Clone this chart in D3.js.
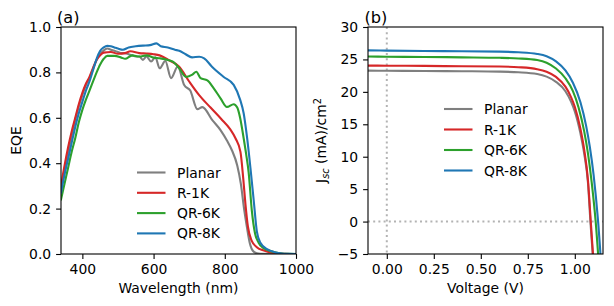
<!DOCTYPE html>
<html>
<head>
<meta charset="utf-8">
<script src="https://cdn.jsdelivr.net/npm/d3@7"></script>
<style>
  body { margin: 0; background: #fff; }
  svg text { font-family: "DejaVu Sans", sans-serif; font-size: 13.9px; fill: #000; }
</style>
</head>
<body>
<svg id="chart" width="614" height="306"></svg>
<script>
// series names and colours (same order in both panels)
var seriesNames = ["Planar", "R-1K", "QR-6K", "QR-8K"];
var seriesColors = ["#7f7f7f", "#d62728", "#2ca02c", "#1f77b4"];

// (a) EQE spectra
var planarWl  = [340,350,360,370,380,390,400,410,420,430,440,450,460,470,480,490,500,510,520,530,540,550,560,570,580,593,605,617,633,649,668,686,703,723,737,765,788,806,820,835,845,855,862,870,880,890,900,1000];
var planarEqe = [0.28,0.37,0.45,0.52,0.59,0.65,0.70,0.745,0.775,0.815,0.855,0.88,0.897,0.905,0.90,0.895,0.89,0.885,0.885,0.88,0.875,0.87,0.87,0.855,0.87,0.848,0.867,0.818,0.85,0.775,0.826,0.744,0.72,0.638,0.647,0.59,0.546,0.50,0.457,0.39,0.31,0.19,0.12,0.05,0.012,0.003,0.001,0];

var r1kWl  = [340,350,360,370,380,390,400,410,420,430,440,450,460,480,500,520,535,560,580,600,617,644,672,700,728,760,790,815,830,844,852,858,865,875,890,910,940,970,1000];
var r1kEqe = [0.30,0.39,0.47,0.54,0.60,0.66,0.71,0.75,0.78,0.82,0.855,0.875,0.887,0.89,0.882,0.885,0.893,0.885,0.883,0.88,0.875,0.853,0.825,0.76,0.70,0.645,0.595,0.55,0.51,0.45,0.33,0.22,0.12,0.06,0.03,0.015,0.004,0.001,0];

var qr6kWl  = [340,350,360,370,380,390,400,410,420,430,440,450,460,470,490,510,520,540,560,580,600,617,640,654,672,691,709,720,732,751,769,788,806,825,835,843,853,860,867,876,885,895,905,920,940,960,980,1000];
var qr6kEqe = [0.24,0.31,0.38,0.45,0.51,0.58,0.635,0.68,0.72,0.76,0.80,0.835,0.86,0.873,0.873,0.865,0.86,0.875,0.87,0.875,0.865,0.862,0.855,0.847,0.818,0.78,0.79,0.803,0.775,0.765,0.73,0.686,0.648,0.66,0.645,0.60,0.51,0.44,0.36,0.19,0.09,0.05,0.03,0.018,0.008,0.002,0.0005,0];

var qr8kWl  = [340,350,360,370,380,390,400,410,420,430,440,450,460,470,480,490,500,514,530,550,570,590,608,620,640,660,672,690,708,728,742,764,797,825,843,853,862,872,881,890,900,920,940,960,980,1000];
var qr8kEqe = [0.27,0.35,0.42,0.49,0.56,0.62,0.67,0.72,0.76,0.81,0.86,0.895,0.91,0.917,0.915,0.91,0.905,0.90,0.91,0.915,0.918,0.92,0.928,0.915,0.91,0.90,0.895,0.88,0.866,0.869,0.862,0.825,0.78,0.745,0.68,0.62,0.52,0.38,0.24,0.10,0.05,0.02,0.008,0.002,0.0005,0];

// (b) J-V curves
var planarV = [-0.1,0,0.2,0.4,0.6,0.7,0.8,0.85,0.9,0.95,0.98,1.0,1.03,1.05,1.07,1.083,1.12];
var planarJ = [23.28,23.25,23.22,23.18,23.12,23.02,22.75,22.35,21.55,20.1,18.5,17.0,13.6,10.5,6.0,0,-15];
var r1kV = [-0.1,0,0.2,0.4,0.6,0.7,0.8,0.85,0.9,0.95,0.98,1.0,1.03,1.05,1.07,1.085,1.12];
var r1kJ = [24.05,24.03,24.0,23.95,23.9,23.8,23.5,23.1,22.3,20.8,19.2,17.7,14.3,11.1,6.4,0,-15];
var qr6kV = [-0.1,0,0.2,0.4,0.6,0.7,0.8,0.85,0.9,0.95,0.99,1.02,1.05,1.07,1.09,1.111,1.14];
var qr6kJ = [25.45,25.42,25.38,25.32,25.25,25.15,24.9,24.5,23.6,22.1,20.1,17.6,13.9,10.5,6.0,0,-12];
var qr8kV = [-0.1,0,0.2,0.4,0.6,0.7,0.8,0.85,0.9,0.95,0.99,1.03,1.06,1.08,1.10,1.124,1.15];
var qr8kJ = [26.4,26.35,26.3,26.25,26.2,26.1,25.85,25.5,24.7,23.3,21.4,18.4,14.8,11.5,7.2,0,-11];

// ticks
var eqeXTicks = [400, 600, 800, 1000];
var eqeYTicks = [0, 0.2, 0.4, 0.6, 0.8, 1.0];
var jvXTicks = [0, 0.25, 0.5, 0.75, 1.0];
var jvYTicks = [-5, 0, 5, 10, 15, 20, 25, 30];

var eqeData = [[planarWl, planarEqe], [r1kWl, r1kEqe], [qr6kWl, qr6kEqe], [qr8kWl, qr8kEqe]];
var jvData = [[planarV, planarJ], [r1kV, r1kJ], [qr6kV, qr6kJ], [qr8kV, qr8kJ]];

var svg = d3.select("#chart");
svg.append("rect").attr("width", 614).attr("height", 306).attr("fill", "#fff");

var tickLen = 4.9, tickPad = 4.9;

function panel(id, left, right, top, bottom, xDomain, yDomain, xTicks, yTicks, xFmt, yFmt) {
  var g = svg.append("g");
  var x = d3.scaleLinear().domain(xDomain).range([left, right]);
  var y = d3.scaleLinear().domain(yDomain).range([bottom, top]);

  svg.append("clipPath").attr("id", "clip-" + id)
    .append("rect").attr("x", left).attr("y", top)
    .attr("width", right - left).attr("height", bottom - top);

  var xa = g.append("g").attr("transform", "translate(0," + bottom + ")")
    .call(d3.axisBottom(x).tickValues(xTicks).tickFormat(d3.format(xFmt))
      .tickSize(tickLen).tickPadding(tickPad).tickSizeOuter(0));
  var ya = g.append("g").attr("transform", "translate(" + left + ",0)")
    .call(d3.axisLeft(y).tickValues(yTicks).tickFormat(d3.format(yFmt))
      .tickSize(tickLen).tickPadding(tickPad).tickSizeOuter(0));
  [xa, ya].forEach(function(a) {
    a.select(".domain").remove();
    a.selectAll("line").attr("stroke", "#000").attr("stroke-width", 1.1);
    a.selectAll("text").attr("font-family", "DejaVu Sans").attr("font-size", "13.9px");
  });

  var plot = g.append("g").attr("clip-path", "url(#clip-" + id + ")");
  return { g: g, plot: plot, x: x, y: y };
}

function drawSeries(p, data) {
  var line = d3.line()
    .x(function(d) { return p.x(d[0]); })
    .y(function(d) { return p.y(d[1]); })
    .curve(d3.curveMonotoneX);
  data.forEach(function(s, i) {
    var pts = s[0].map(function(v, k) { return [v, s[1][k]]; });
    p.plot.append("path").datum(pts)
      .attr("d", line)
      .attr("fill", "none")
      .attr("stroke", seriesColors[i])
      .attr("stroke-width", 2.1)
      .attr("stroke-linejoin", "round")
      .attr("stroke-linecap", "square");
  });
}

function frame(p) {
  var r = p.x.range(), d = p.y.range();
  p.g.append("rect")
    .attr("x", r[0]).attr("y", d[1])
    .attr("width", r[1] - r[0]).attr("height", d[0] - d[1])
    .attr("fill", "none").attr("stroke", "#000").attr("stroke-width", 1.1);
}

function legend(p, lx, ly, step) {
  seriesNames.forEach(function(name, i) {
    var yy = ly + i * step;
    p.g.append("line")
      .attr("x1", lx).attr("x2", lx + 28.5)
      .attr("y1", yy).attr("y2", yy)
      .attr("stroke", seriesColors[i]).attr("stroke-width", 2.1);
    p.g.append("text")
      .attr("x", lx + 40).attr("y", yy).attr("dy", "0.36em")
      .text(name);
  });
}

// ---- panel (a)
var pa = panel("a", 61, 296, 27, 254, [340, 1000], [0, 1], eqeXTicks, eqeYTicks, "d", ".1f");
drawSeries(pa, eqeData);
frame(pa);
legend(pa, 137, 172.5, 20.3);

pa.g.append("text").attr("x", 57).attr("y", 22.5).style("font-size", "16.2px").text("(a)");
pa.g.append("text")
  .attr("text-anchor", "middle")
  .attr("x", (61 + 296) / 2).attr("y", 292.5)
  .text("Wavelength (nm)");
pa.g.append("text")
  .attr("text-anchor", "middle")
  .attr("transform", "translate(20.5," + (27 + 254) / 2 + ") rotate(-90)")
  .text("EQE");

// ---- panel (b)
var pb = panel("b", 368, 603, 27, 254, [-0.1, 1.15], [-5, 30], jvXTicks, jvYTicks, ".2f", "d");

// dotted reference lines at V = 0 and J = 0
pb.plot.append("line")
  .attr("x1", pb.x(0)).attr("x2", pb.x(0))
  .attr("y1", pb.y(30)).attr("y2", pb.y(-5))
  .attr("stroke", "#b3b3b3").attr("stroke-width", 2).attr("stroke-dasharray", "2,3.2");
pb.plot.append("line")
  .attr("x1", pb.x(-0.1)).attr("x2", pb.x(1.15))
  .attr("y1", pb.y(0)).attr("y2", pb.y(0))
  .attr("stroke", "#b3b3b3").attr("stroke-width", 2).attr("stroke-dasharray", "2,3.2");

drawSeries(pb, jvData);
frame(pb);
legend(pb, 444, 109, 20.5);

pb.g.append("text").attr("x", 364.5).attr("y", 22.5).style("font-size", "16.2px").text("(b)");
pb.g.append("text")
  .attr("text-anchor", "middle")
  .attr("x", (368 + 603) / 2).attr("y", 292.5)
  .text("Voltage (V)");

var jl = pb.g.append("text")
  .attr("text-anchor", "middle")
  .attr("transform", "translate(326," + (27 + 254) / 2 + ") rotate(-90)");
jl.append("tspan").text("J");
jl.append("tspan").attr("dy", 3).attr("font-size", "9.7px").attr("font-style", "italic").text("sc");
jl.append("tspan").attr("dy", -3).text(" (mA)/cm");
jl.append("tspan").attr("dy", -5.5).attr("font-size", "9.7px").text("2");
</script>
</body>
</html>
